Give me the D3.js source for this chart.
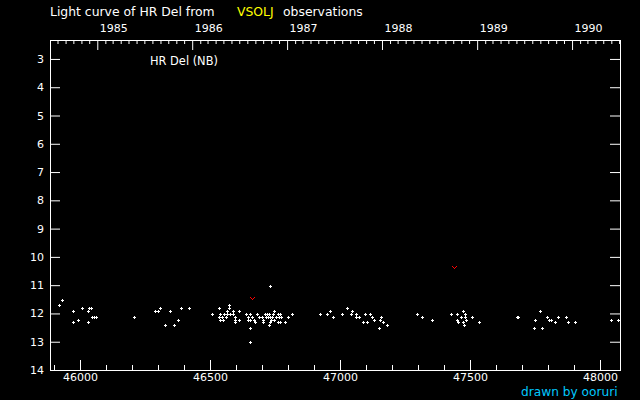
<!DOCTYPE html>
<html><head><meta charset="utf-8">
<script src="https://cdn.jsdelivr.net/npm/d3@7"></script>
<style>
html,body{margin:0;padding:0;background:#000;}
svg{display:block;}
</style></head>
<body>
<svg id="c" width="640" height="400"></svg>
<script>
// Observations (JD - 2400000, visual magnitude)
const obsJD = [45920,45932,45974,45974,45993,46009,46032,46032,46036,46043,46045,46054,46063,46209,46290,46299,46309,46328,46347,46363,46378,46390,46420,
46509,46536,46536,46540,46540,46547,46551,46555,46563,46567,46567,46574,46574,46578,46590,46590,46597,46597,46597,46613,46613,46637,46647,46647,46655,46655,46655,46655,46663,46670,46674,46682,46690,46699,46705,46705,46713,46717,46720,46724,46728,46728,46732,46732,46732,46736,46740,46743,46747,46747,46755,46763,46763,46767,46770,46770,46774,46790,46801,46817,
46924,46951,46963,46974,47009,47028,47043,47047,47063,47063,47074,47090,47097,47105,47117,47124,47132,47151,47155,47159,47167,47182,47297,47317,47355,
47428,47451,47451,47455,47467,47474,47474,47478,47482,47482,47486,47509,47536,47682,47686,47747,47751,47770,47778,47797,47805,47812,47828,47840,47870,47878,47905,48043,48070];
const obsMag = [11.7,11.5,11.9,12.3,12.2,11.8,11.9,12.3,11.8,11.8,12.1,12.1,12.1,12.1,11.9,11.9,11.8,12.4,11.9,12.4,12.2,11.8,11.8,
12.0,11.8,12.1,12.0,12.2,12.1,12.2,12.0,12.1,11.9,12.0,11.7,11.8,12.0,11.9,12.0,12.1,12.2,12.3,11.9,12.2,12.0,12.1,12.2,12.0,12.2,12.5,13.0,12.1,12.2,12.3,12.0,12.1,12.1,12.2,12.3,12.0,12.1,12.0,12.1,12.0,12.4,11.0,12.1,12.3,12.2,12.1,12.0,11.9,12.2,12.1,12.0,12.3,12.1,12.0,12.3,12.1,12.3,12.1,12.0,
12.0,12.0,11.9,12.1,12.0,11.8,12.0,11.9,12.0,12.1,12.1,12.3,12.0,12.3,12.0,12.1,12.2,12.5,12.2,12.1,12.3,12.4,12.0,12.1,12.2,
12.0,12.0,12.2,12.3,12.1,11.9,12.3,12.4,12.0,12.1,12.2,12.1,12.3,12.1,12.1,12.5,12.2,11.9,12.5,12.1,12.2,12.2,12.3,12.1,12.1,12.3,12.3,12.2,12.2];
// Fainter-than observations
const limJD = [46663, 47440];
const limMag = [11.5, 10.4];
// Axis ticks
const magTicks = [3,4,5,6,7,8,9,10,11,12,13,14];
const jdMajor = [46000,46500,47000,47500,48000];
const jdMinor = d3.range(45900, 48001, 100);
const yearLabels = [1985,1986,1987,1988,1989,1990];

const toJD = dt => dt.getTime()/86400000 + 40587.5;

const svg = d3.select("#c");
const W=640,H=400, L=50,R=620,T=40,B=370;
const x = d3.scaleLinear().domain([45884.6, 48076.9]).range([L,R]);
const y = d3.scaleLinear().domain([2.33, 14]).range([T,B]);
const FONT = "'DejaVu Sans', sans-serif";

svg.append("rect").attr("width",W).attr("height",H).attr("fill","#000");

function style(g){
  g.attr("font-family",FONT).attr("font-size",11);
  g.select(".domain").remove();
  g.selectAll("line").attr("stroke","#fff");
  g.selectAll("text").attr("fill","#fff");
}

// bottom axis
const gb = svg.append("g").attr("transform",`translate(0,${B})`)
  .call(d3.axisBottom(x).tickValues(jdMajor).tickSize(-10).tickPadding(3).tickFormat(d3.format("d")));
style(gb);
const gbm = svg.append("g").attr("transform",`translate(0,${B})`)
  .call(d3.axisBottom(x).tickValues(jdMinor).tickSize(-5).tickFormat(""));
style(gbm);

// left axis
const gl = svg.append("g").attr("transform",`translate(${L},0)`)
  .call(d3.axisLeft(y).tickValues(magTicks).tickSize(-10).tickPadding(6));
style(gl);
// right axis
const gr = svg.append("g").attr("transform",`translate(${R},0)`)
  .call(d3.axisRight(y).tickValues(magTicks).tickSize(-10).tickFormat(""));
style(gr);

// top axis: years
const yearJD = yearLabels.map(yr => toJD(new Date(Date.UTC(yr,0,1))));
const gt = svg.append("g").attr("transform",`translate(0,${T})`)
  .call(d3.axisTop(x).tickValues(yearJD).tickSize(-10).tickPadding(8).tickFormat((d,i)=>yearLabels[i]));
style(gt);
gt.selectAll("text").attr("text-anchor","start").attr("x",2);
const months = [];
for(let yr=1984; yr<=1990; yr++) for(let m=0;m<12;m++){
  const j = toJD(new Date(Date.UTC(yr,m,1)));
  if(j> x.domain()[0] && j < x.domain()[1] && m!==0) months.push(j);
}
const gtm = svg.append("g").attr("transform",`translate(0,${T})`)
  .call(d3.axisTop(x).tickValues(months).tickSize(-4).tickFormat(""));
style(gtm);

// frame
svg.append("rect").attr("x",L+0.5).attr("y",T+0.5).attr("width",R-L).attr("height",B-T)
  .attr("fill","none").attr("stroke","#fff").attr("stroke-width",1).attr("shape-rendering","crispEdges");

// observations
const obs = obsJD.map((j,i)=>({j, m:obsMag[i]}));
svg.append("g").selectAll("path").data(obs).join("path")
  .attr("d", d => {
    const cx = Math.round(x(d.j)), cy = Math.floor(y(d.m))+1;
    return `M${cx-1},${cy+0.5}h3M${cx+0.5},${cy-1}v3`;
  })
  .attr("stroke","#fff").attr("stroke-width",1).attr("fill","none").attr("shape-rendering","crispEdges");

// fainter-than marks
const lim = limJD.map((j,i)=>({j, m:limMag[i]}));
const vOff = [[-2,-2],[-1,-1],[0,0],[1,-1],[2,-2]];
const lg = svg.append("g");
lim.forEach(d => {
  const cx = Math.round(x(d.j)), cy = Math.round(y(d.m));
  lg.selectAll(null).data(vOff).join("rect")
    .attr("x", o => cx+o[0]).attr("y", o => cy+o[1]).attr("width",1).attr("height",1)
    .attr("fill","#ff0000");
});

// texts
const TF = 12.4;
svg.append("text").attr("x",50).attr("y",16).attr("font-family",FONT).attr("font-size",TF).attr("fill","#fff").text("Light curve of HR Del from");
svg.append("text").attr("x",237).attr("y",16).attr("font-family",FONT).attr("font-size",TF).attr("fill","#ffff00").text("VSOLJ");
svg.append("text").attr("x",283).attr("y",16).attr("font-family",FONT).attr("font-size",TF).attr("fill","#fff").text("observations");
svg.append("text").attr("x",150).attr("y",65).attr("font-family",FONT).attr("font-size",11.4).attr("fill","#fff").text("HR Del (NB)");
svg.append("text").attr("x",521).attr("y",395.5).attr("font-family",FONT).attr("font-size",12.2).attr("fill","#00c8ff").text("drawn by ooruri");
</script>
</body></html>
